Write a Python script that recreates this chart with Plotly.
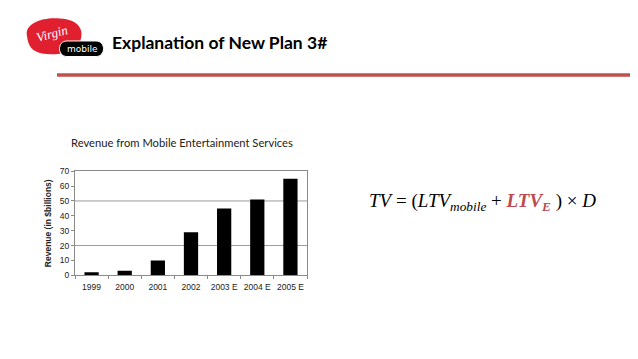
import plotly.graph_objects as go

years = ["1999", "2000", "2001", "2002", "2003 E", "2004 E", "2005 E"]
revenue = [2, 3, 10, 29, 45, 51, 65]
y_ticks = [0, 10, 20, 30, 40, 50, 60, 70]
grid_at = [20, 50]

title_text = "Explanation of New Plan 3#"
subtitle_text = "Revenue from Mobile Entertainment Services"
y_title = "Revenue (in $billions)"

W, H = 638, 359
def px(x): return x / W
def py(y): return 1 - y / H

fig = go.Figure()
fig.add_trace(go.Bar(x=years, y=revenue, marker=dict(color="black", line=dict(width=0)),
                     hoverinfo="skip"))

shapes = []
for g in grid_at:
    shapes.append(dict(type="line", xref="x domain", yref="y", x0=0, x1=1, y0=g, y1=g,
                       line=dict(color="#9a9a9a", width=1), layer="below"))
# red rule under title
shapes.append(dict(type="line", xref="paper", yref="paper", x0=px(57), x1=px(630),
                   y0=py(72), y1=py(72), line=dict(color="#c0504d", width=3.5)))
# logo: red blob
shapes.append(dict(type="path", xref="paper", yref="paper",
                   path=f"M {px(27)} {py(32)} C {px(24)} {py(18)}, {px(45)} {py(12)}, {px(60)} {py(14)} "
                        f"C {px(78)} {py(15)}, {px(85)} {py(25)}, {px(80)} {py(38)} "
                        f"C {px(74)} {py(50)}, {px(55)} {py(52)}, {px(42)} {py(50)} "
                        f"C {px(32)} {py(48)}, {px(28)} {py(42)}, {px(27)} {py(32)} Z",
                   fillcolor="#e1202f", line=dict(width=0)))
# logo: black pill
shapes.append(dict(type="path", xref="paper", yref="paper",
                   path=f"M {px(67)} {py(37)} L {px(96)} {py(37)} "
                        f"C {px(106)} {py(37)}, {px(106)} {py(53)}, {px(96)} {py(53)} "
                        f"L {px(67)} {py(53)} C {px(57)} {py(53)}, {px(57)} {py(37)}, {px(67)} {py(37)} Z",
                   fillcolor="black", line=dict(color="white", width=1)))

annotations = [
    dict(text=f"<b>{title_text}</b>", x=px(110), y=py(39), xref="paper", yref="paper",
         xanchor="left", yanchor="middle", showarrow=False,
         font=dict(family="Lato", size=17.5, color="black")),
    dict(text=subtitle_text, x=px(69), y=py(141), xref="paper", yref="paper",
         xanchor="left", yanchor="middle", showarrow=False,
         font=dict(family="Lato", size=11.2, color="#222")),
    dict(text="<i>Virgin</i>", x=px(52), y=py(29), xref="paper", yref="paper",
         xanchor="center", yanchor="middle", showarrow=False, textangle=-15,
         font=dict(family="Liberation Serif", size=13, color="white")),
    dict(text="mobile", x=px(82), y=py(45.5), xref="paper", yref="paper",
         xanchor="center", yanchor="middle", showarrow=False,
         font=dict(family="DejaVu Sans", size=9, color="white")),
    dict(text="<i>TV</i> = (<i>LTV</i><sub><i>mobile</i></sub> + "
              "<span style='color:#bc4a55'><b><i>LTV</i></b><sub><b><i>E</i></b></sub></span>"
              " ) × <i>D</i>",
         x=px(367), y=py(203), xref="paper", yref="paper",
         xanchor="left", yanchor="middle", showarrow=False,
         font=dict(family="Liberation Serif", size=19, color="black")),
]

fig.update_layout(
    width=W, height=H, margin=dict(l=0, r=0, t=0, b=0),
    paper_bgcolor="white", plot_bgcolor="white",
    showlegend=False, bargap=0.57,
    shapes=shapes, annotations=annotations,
    xaxis=dict(domain=[px(75), px(307)], showline=True, mirror=True, linecolor="#8a8a8a",
               linewidth=1, ticks="outside", tickson="boundaries", ticklen=3,
               tickcolor="#8a8a8a", showgrid=False, tickangle=0, ticklabelstandoff=4,
               tickfont=dict(family="Liberation Sans", size=8.5, color="#222"),
               fixedrange=True),
    yaxis=dict(domain=[py(278), py(171)], range=[0, 70], tickvals=y_ticks,
               showline=True, mirror=True, linecolor="#8a8a8a", linewidth=1,
               ticks="outside", ticklen=3, tickcolor="#8a8a8a", showgrid=False,
               zeroline=False,
               tickfont=dict(family="Liberation Sans", size=8.5, color="#222"),
               title=dict(text=f"<b>{y_title}</b>", standoff=6,
                          font=dict(family="Liberation Sans", size=8.5, color="#222")),
               fixedrange=True),
)

fig.write_html("out.html", config={"displayModeBar": False},
               post_script="document.body.style.margin='0';document.body.style.overflow='hidden';")
